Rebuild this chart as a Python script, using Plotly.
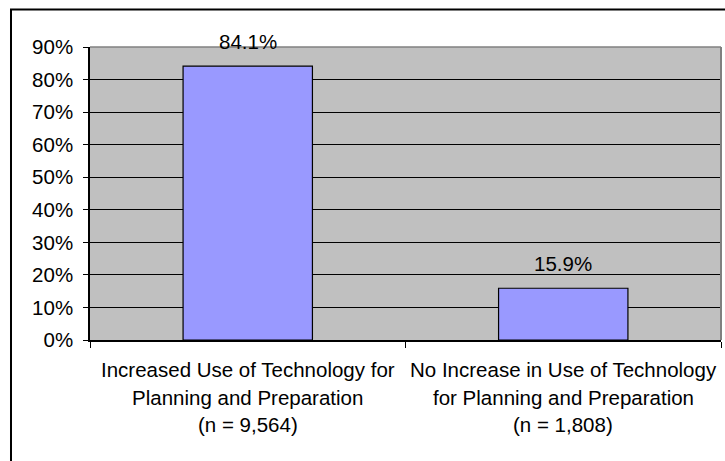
import plotly.graph_objects as go

# Survey result: share of respondents by change in technology use
categories = ["Increased", "No Increase"]
label_lines = [
    ["Increased Use of Technology for", "Planning and Preparation", "(n = 9,564)"],
    ["No Increase in Use of Technology", "for Planning and Preparation", "(n = 1,808)"],
]
percent_values = [84.1, 15.9]
y_ticks = [0, 10, 20, 30, 40, 50, 60, 70, 80, 90]

FONT = "Liberation Sans, Arial, sans-serif"
FS = 20.5

fig = go.Figure(
    go.Bar(
        x=categories,
        y=percent_values,
        width=0.41,
        marker=dict(color="#9999FF", line=dict(color="#000000", width=1.2)),
        hoverinfo="skip",
    )
)

annotations = []
# value labels above each bar
for cat, val in zip(categories, percent_values):
    annotations.append(dict(
        x=cat, y=val, xref="x", yref="y", text=f"{val:.1f}%",
        showarrow=False, yanchor="middle", yshift=25,
        font=dict(family=FONT, size=FS, color="#000000"),
    ))
# multi-line category labels under the axis
line_shifts = [-29, -57, -84]
for cat, lines in zip(categories, label_lines):
    for txt, sh in zip(lines, line_shifts):
        annotations.append(dict(
            x=cat, y=0, xref="x", yref="y", text=txt,
            showarrow=False, yanchor="middle", yshift=sh,
            font=dict(family=FONT, size=FS, color="#000000"),
        ))

shapes = [
    # outer chart frame
    dict(type="rect", xref="paper", yref="paper",
         x0=-0.1252, x1=1.0095, y0=-0.5, y1=1.128,
         line=dict(color="#000000", width=2), layer="above"),
    # plot-area frame on top and right
    dict(type="line", xref="paper", yref="paper", x0=0, x1=1, y0=1, y1=1,
         line=dict(color="#808080", width=1.5), layer="above"),
    dict(type="line", xref="paper", yref="paper", x0=1, x1=1, y0=0, y1=1,
         line=dict(color="#808080", width=2), layer="above"),
]

fig.update_layout(
    width=725, height=461,
    margin=dict(l=90, r=4, t=47, b=121),
    paper_bgcolor="#FFFFFF",
    plot_bgcolor="#C0C0C0",
    showlegend=False,
    bargap=0.59,
    font=dict(family=FONT, size=FS, color="#000000"),
    annotations=annotations,
    shapes=shapes,
)
fig.update_xaxes(
    type="category",
    showticklabels=False,
    showgrid=False,
    showline=True, linecolor="#000000", linewidth=1.5,
    ticks="outside", tickson="boundaries", ticklen=6,
    tickcolor="#000000", tickwidth=1,
)
fig.update_yaxes(
    range=[0, 90],
    tickvals=y_ticks,
    ticktext=[f"{t}%" for t in y_ticks],
    showgrid=True, gridcolor="#000000", gridwidth=1,
    zeroline=False,
    showline=True, linecolor="#000000", linewidth=1.5,
    ticks="outside", ticklen=5, tickcolor="#000000", tickwidth=1,
    ticklabelstandoff=6,
    tickfont=dict(family=FONT, size=FS, color="#000000"),
)

fig.write_html("out.html")
